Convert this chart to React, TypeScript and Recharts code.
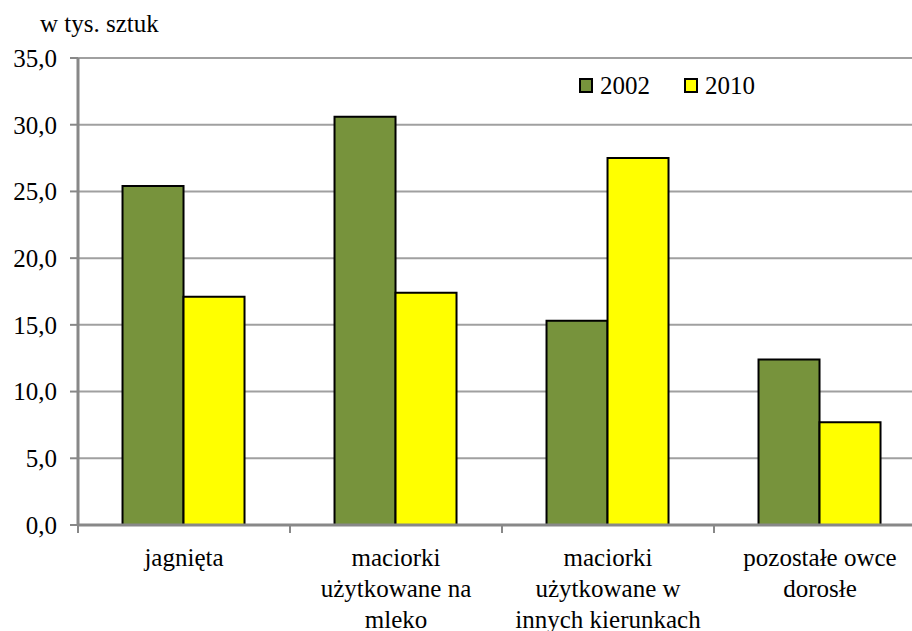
import React from "react";
import { BarChart, Bar, XAxis, YAxis, CartesianGrid } from "recharts";

const categories = [
  "jagnięta",
  "maciorki\nużytkowane na\nmleko",
  "maciorki\nużytkowane w\ninnych kierunkach",
  "pozostałe owce\ndorosłe",
];
const values2002 = [25.4, 30.6, 15.3, 12.4];
const values2010 = [17.1, 17.4, 27.5, 7.7];
const yTicks = [0, 5, 10, 15, 20, 25, 30, 35];
const seriesNames = ["2002", "2010"];
const unitLabel = "w tys. sztuk";

const GREEN = "#77933C";
const YELLOW = "#FFFF00";
const FONT =
  "'Liberation Serif', 'Times New Roman', Times, Tinos, 'Noto Serif', 'DejaVu Serif', FreeSerif, serif";

const data = categories.map((name, i) => ({
  name,
  s2002: values2002[i],
  s2010: values2010[i],
}));

function CategoryTick(props: any) {
  const { x, y, payload, width } = props;
  const band = (width || 848) / categories.length;
  const lines = String(payload.value).split("\n");
  return (
    <g>
      <line x1={x - band / 2} x2={x - band / 2} y1={y - 8} y2={y} stroke="#888888" strokeWidth={2} />
      <text x={x} y={y} textAnchor="middle" style={{ fontFamily: FONT }} fontSize={25} fill="#000">
        {lines.map((l, i) => (
          <tspan key={i} x={x} dy={i === 0 ? 33 : 31}>
            {l}
          </tspan>
        ))}
      </text>
    </g>
  );
}

function LegendBox() {
  const items = [
    { name: seriesNames[0], color: GREEN },
    { name: seriesNames[1], color: YELLOW },
  ];
  return (
    <div style={{ position: "absolute", left: 579, top: 73, display: "flex", alignItems: "center" }}>
      {items.map((it, i) => (
        <span
          key={it.name}
          style={{ display: "flex", alignItems: "center", marginRight: i === 0 ? 34 : 0 }}
        >
          <span
            style={{
              width: 10,
              height: 11,
              background: it.color,
              border: "2px solid #000",
              display: "inline-block",
              marginRight: 7,
            }}
          />
          <span style={{ fontFamily: FONT, fontSize: 25, color: "#000", lineHeight: "25px" }}>{it.name}</span>
        </span>
      ))}
    </div>
  );
}

export default function App() {
  return (
    <div style={{ position: "relative", width: 912, height: 631, overflow: "hidden", background: "#fff" }}>
      <style>{`body{margin:0}`}</style>
      <div
        style={{
          position: "absolute",
          left: 40,
          top: 11,
          fontFamily: FONT,
          fontSize: 25,
          lineHeight: "25px",
          color: "#000",
          whiteSpace: "nowrap",
        }}
      >
        {unitLabel}
      </div>
      <BarChart
        width={930}
        height={631}
        data={data}
        margin={{ top: 58, right: 4, bottom: 0, left: 0 }}
        barCategoryGap="21%"
        barGap={0}
      >
        <CartesianGrid vertical={false} stroke="#a0a0a0" strokeWidth={2} />
        <XAxis
          dataKey="name"
          height={106}
          axisLine={{ stroke: "#888888", strokeWidth: 3 }}
          tickLine={false}
          tickSize={8}
          tickMargin={0}
          interval={0}
          tick={<CategoryTick />}
        />
        <YAxis
          width={78}
          domain={[0, 35]}
          ticks={yTicks}
          allowDataOverflow
          axisLine={{ stroke: "#888888", strokeWidth: 3 }}
          tickLine={{ stroke: "#888888", strokeWidth: 2 }}
          tickSize={8}
          tickMargin={13}
          tickFormatter={(v: number) => v.toFixed(1).replace(".", ",")}
          tick={{ style: { fontFamily: FONT }, fontSize: 25, fill: "#000" }}
        />
        <Bar dataKey="s2002" name={seriesNames[0]} fill={GREEN} stroke="#000" strokeWidth={2} isAnimationActive={false} />
        <Bar dataKey="s2010" name={seriesNames[1]} fill={YELLOW} stroke="#000" strokeWidth={2} isAnimationActive={false} />
      </BarChart>
      <LegendBox />
    </div>
  );
}
